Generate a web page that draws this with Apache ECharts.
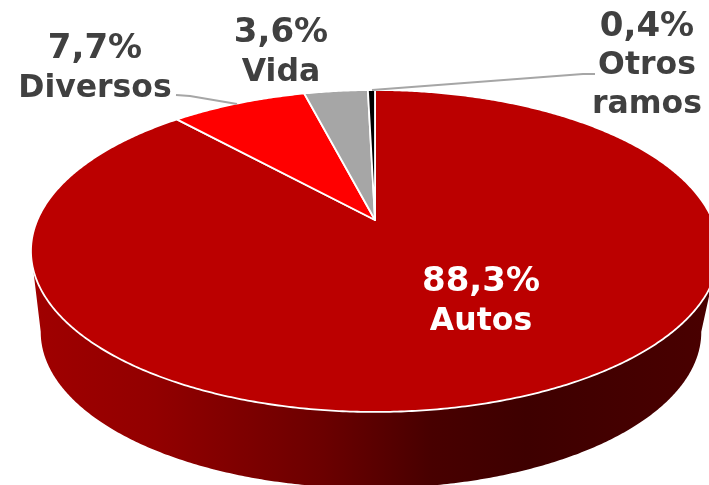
<!DOCTYPE html>
<html>
<head>
<meta charset="utf-8">
<style>
  html, body { margin: 0; padding: 0; background: #fff; overflow: hidden; }
  #chart { width: 709px; height: 485px; }
</style>
<script src="https://cdn.jsdelivr.net/npm/echarts@6/dist/echarts.min.js"></script>
</head>
<body>
<div id="chart"></div>
<script>
const categories = ['Autos', 'Diversos', 'Vida', 'Otros\nramos'];
const shares = [88.3, 7.7, 3.6, 0.4];

const sliceColors = ['#bb0000', '#ff0000', '#a6a6a6', '#000000'];
// centro del bloque de texto de cada etiqueta
const labelCenters = [[481, 302], [95, 69], [281, 53], [647, 66]];
const labelColors = ['#ffffff', '#404040', '#404040', '#404040'];
const leaderLines = [
  [[176, 95], [190, 96], [237, 104]],
  [[372, 90], [583, 74], [595, 74]]
];

// disco en perspectiva: el centro cae arriba del centro de la elipse
const cx = 375, cy = 220;
const scaleX = 337.6, scaleY = 155, persp = 0.1925;
const upperRim = { kx: 1, ky: 1, drop: 0, shift: 0 };
const lowerRim = { kx: 0.96, ky: 0.97, drop: 82, shift: -4 };

const total = shares.reduce(function (a, b) { return a + b; }, 0);

// angulo en grados, horario desde arriba
function project(deg, rim) {
  const t = deg * Math.PI / 180;
  const u = Math.sin(t), v = -Math.cos(t);
  const w = 1 - persp * v;
  return [cx + rim.shift + rim.kx * scaleX * u / w, cy + rim.drop + rim.ky * scaleY * v / w];
}

function arcPoints(from, to, rim) {
  const pts = [];
  const steps = Math.max(2, Math.ceil(Math.abs(to - from) * 2));
  for (let i = 0; i <= steps; i++) {
    pts.push(project(from + (to - from) * i / steps, rim));
  }
  return pts;
}

function sliceRange(idx) {
  let start = 0;
  for (let i = 0; i < idx; i++) start += shares[i];
  return [start / total * 360, (start + shares[idx]) / total * 360];
}

const frontFrom = 101, frontTo = 259;

function renderSide(params, api) {
  const r = sliceRange(params.dataIndex);
  const from = Math.max(r[0], frontFrom), to = Math.min(r[1], frontTo);
  if (to <= from) return { type: 'group', children: [] };
  const pts = arcPoints(from, to, upperRim).concat(arcPoints(to, from, lowerRim));
  return {
    type: 'polygon',
    shape: { points: pts },
    style: {
      fill: {
        type: 'linear', x: 0, y: 0, x2: 1, y2: 0,
        colorStops: [
          { offset: 0, color: '#a00000' },
          { offset: 0.18, color: '#920000' },
          { offset: 0.42, color: '#6c0000' },
          { offset: 0.58, color: '#480000' },
          { offset: 0.72, color: '#3e0000' },
          { offset: 1, color: '#4a0000' }
        ]
      }
    }
  };
}

function renderTop(params, api) {
  const r = sliceRange(params.dataIndex);
  const pts = [[cx, cy]].concat(arcPoints(r[0], r[1], upperRim));
  return {
    type: 'polygon',
    shape: { points: pts },
    style: { fill: sliceColors[params.dataIndex], stroke: '#fff', lineWidth: 1.8, lineJoin: 'round' }
  };
}

function renderLabel(params, api) {
  const i = params.dataIndex;
  const pct = shares[i].toFixed(1).replace('.', ',') + '%';
  const nameLines = categories[i].split('\n').map(function (s) { return '{n|' + s + '}'; });
  const color = labelColors[i];
  return {
    type: 'text',
    style: {
      text: ['{p|' + pct + '}'].concat(nameLines).join('\n'),
      x: labelCenters[i][0],
      y: labelCenters[i][1],
      align: 'center',
      verticalAlign: 'middle',
      fontFamily: '"DejaVu Sans"',
      fontWeight: 'bold',
      fill: color,
      rich: {
        p: { fontFamily: '"DejaVu Sans"', fontWeight: 'bold', fontSize: 34, lineHeight: 39, fill: color, align: 'center' },
        n: { fontFamily: '"DejaVu Sans"', fontWeight: 'bold', fontSize: 31.5, lineHeight: 39, fill: color, align: 'center' }
      }
    }
  };
}

function renderLeader(params, api) {
  return {
    type: 'polyline',
    shape: { points: leaderLines[params.dataIndex] },
    style: { fill: 'none', stroke: '#a6a6a6', lineWidth: 2 }
  };
}

const chart = echarts.init(document.getElementById('chart'));
const sliceData = shares.map(function (v, i) { return { name: categories[i], value: v }; });

chart.setOption({
  animation: false,
  backgroundColor: '#fff',
  series: [
    { type: 'custom', coordinateSystem: 'none', z: 1, silent: true, data: sliceData, renderItem: renderSide },
    { type: 'custom', coordinateSystem: 'none', z: 2, silent: true, data: sliceData, renderItem: renderTop },
    { type: 'custom', coordinateSystem: 'none', z: 3, silent: true, data: leaderLines.map(function (l, i) { return i; }), renderItem: renderLeader },
    { type: 'custom', coordinateSystem: 'none', z: 4, silent: true, data: sliceData, renderItem: renderLabel }
  ]
});
</script>
</body>
</html>
